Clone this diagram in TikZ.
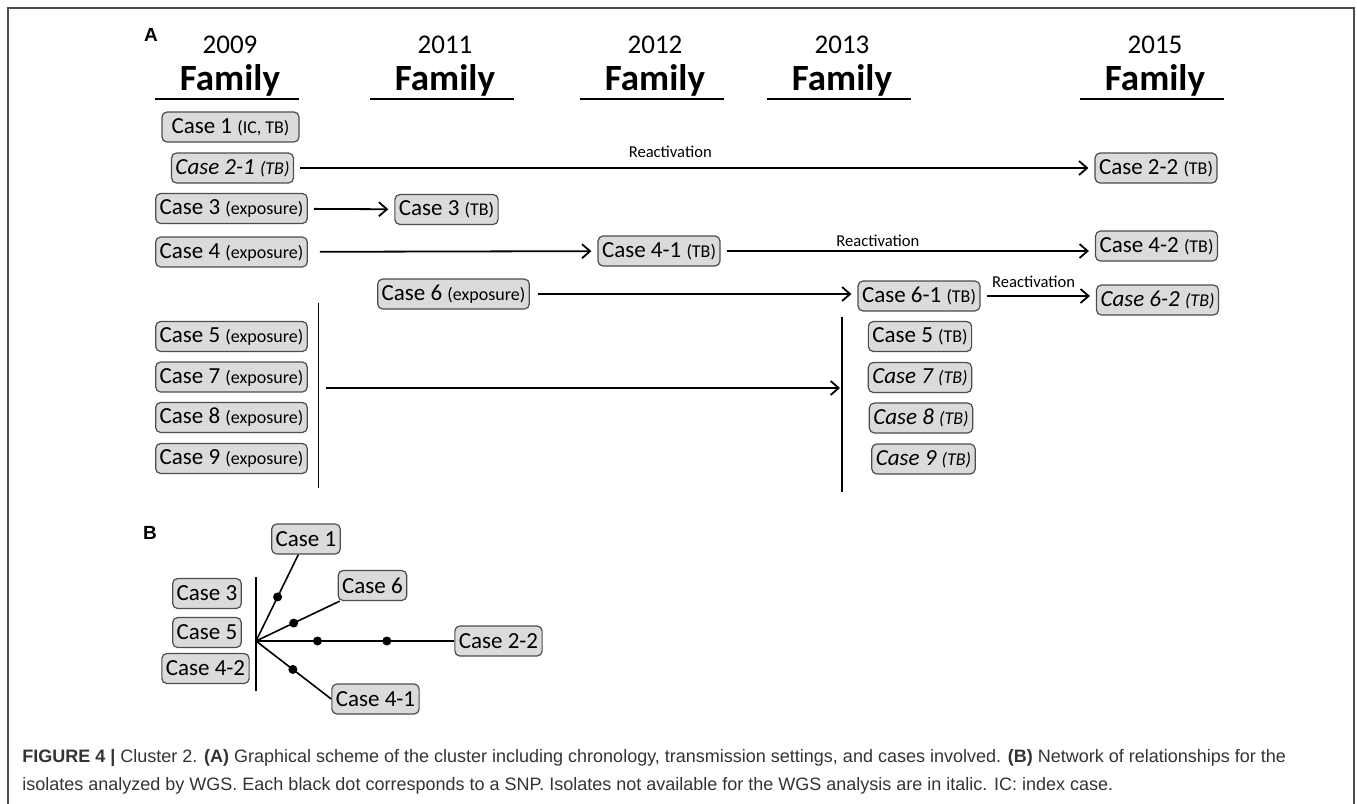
\documentclass[tikz,border=0pt]{standalone}
\usepackage{fontspec}
\setmainfont{Carlito}
\newfontfamily\capfont{Liberation Sans}
\usetikzlibrary{arrows.meta}
\newcommand{\cstag}[1]{{\fontsize{9}{10}\selectfont(#1)}}

\begin{document}
\begin{tikzpicture}[
  x=0.5pt, y=-0.5pt,
  box/.style={draw=black!70, fill=black!14, rounded corners=2.5pt, line width=0.6pt,
  inner xsep=2pt, inner ysep=0pt, minimum height=15pt, font=\fontsize{11.5}{13}\selectfont},
  nowgs/.style={box, font=\itshape\fontsize{11.5}{13}\selectfont},
  year/.style={font=\fontsize{13.5}{16}\selectfont},
  fam/.style={font=\bfseries\fontsize{18.5}{22}\selectfont},
  uline/.style={line width=1.4pt},
  arrow/.style={-{Straight Barb[length=4pt, width=7pt]}, line width=0.9pt,
  shorten <=3pt, shorten >=3pt},
  react/.style={font=\fontsize{8.3}{9}\selectfont, above, inner sep=1.5pt},
  bar/.style={line width=0.7pt},
  link/.style={line width=0.8pt},
  snp/.style={circle, fill=black, inner sep=0pt, minimum size=4.5pt},
  panel/.style={font=\capfont\bfseries\fontsize{9.5}{11}\selectfont}
]
  \useasboundingbox (0,0) rectangle (1357,804);
  \draw[black!70, line width=0.8pt] (8,830) -- (8,8) -- (1354,8) -- (1354,830);

  \node[panel] (pa) at (151,35) {A};
  \foreach \x/\yr in {230/2009, 445/2011, 655/2012, 842/2013, 1155/2015} {
    \node[year] (y\yr) at (\x,45) {\yr};
    \node[fam] (f\yr) at (\x,80) {Family};
    \draw[uline] (\x-75,99) -- (\x+69,99);
  }

  \node[box, minimum width=68.5pt] (c1) at (230.5,127) {Case 1 \cstag{IC, TB}};
  \node[nowgs] (c21) at (232.5,168) {Case 2-1 \cstag{TB}};
  \node[box] (c22) at (1156,168) {Case 2-2 \cstag{TB}};
  \node[box] (c3e) at (231.5,208.5) {Case 3 \cstag{exposure}};
  \node[box] (c3t) at (446.5,209.5) {Case 3 \cstag{TB}};
  \node[box] (c4e) at (231.5,252) {Case 4 \cstag{exposure}};
  \node[box] (c41) at (659,251) {Case 4-1 \cstag{TB}};
  \node[box] (c42) at (1156.5,246) {Case 4-2 \cstag{TB}};
  \node[box] (c6e) at (453.5,294) {Case 6 \cstag{exposure}};
  \node[box] (c61) at (919,296) {Case 6-1 \cstag{TB}};
  \node[nowgs] (c62) at (1157.5,300) {Case 6-2 \cstag{TB}};
  \node[box] (c5e) at (231.5,336.5) {Case 5 \cstag{exposure}};
  \node[box] (c7e) at (231.5,377) {Case 7 \cstag{exposure}};
  \node[box] (c8e) at (231.5,417.5) {Case 8 \cstag{exposure}};
  \node[box] (c9e) at (231.5,458.5) {Case 9 \cstag{exposure}};
  \node[box] (c5t) at (920,336.5) {Case 5 \cstag{TB}};
  \node[nowgs] (c7t) at (920,377.5) {Case 7 \cstag{TB}};
  \node[nowgs] (c8t) at (921,418) {Case 8 \cstag{TB}};
  \node[nowgs] (c9t) at (923.5,459) {Case 9 \cstag{TB}};

  \draw[bar] (318.5,303) -- (318.5,488);
  \draw[bar] (842,317) -- (842,492);
  \coordinate (lb) at (320,388);
  \coordinate (rb) at (846,388);

  \draw[arrow] (c21) -- (c22) node[react, pos=0.47, yshift=3pt] {Reactivation};
  \draw[arrow] (c3e) -- (c3t);
  \draw[arrow, shorten <=6pt] (c4e) -- (c41);
  \draw[arrow] (c41.east) -- (c41.east -| c42.west) node[react, pos=0.42] {Reactivation};
  \draw[arrow, shorten <=4pt] (c6e) -- (c6e -| c61.west);
  \draw[arrow] (c61.east) -- (c61.east -| c62.west) node[react, pos=0.46, yshift=2pt] {Reactivation};
  \draw[arrow] (lb) -- (rb);

  \node[panel] (pb) at (150,533) {B};
  \node[box] (b1) at (306,539) {Case 1};
  \node[box] (b6) at (372.5,585.5) {Case 6};
  \node[box] (b3) at (207,593.5) {Case 3};
  \node[box] (b5) at (207,632.5) {Case 5};
  \node[box] (b42) at (205.5,668.5) {Case 4-2};
  \node[box] (b22) at (498.5,641) {Case 2-2};
  \node[box] (b41) at (375.5,699) {Case 4-1};
  \coordinate (hub) at (256,641);
  \draw[bar] (256,577) -- (256,691);
  \draw[link] (hub) -- (b1) node[snp, pos=0.51] {};
  \draw[link] (hub) -- (b6) node[snp, pos=0.45] {};
  \draw[link] (hub) -- (b22) node[snp, pos=0.31] {} node[snp, pos=0.66] {};
  \draw[link] (hub) -- (b41.west) node[snp, pos=0.49] {};

  \node[anchor=base west, align=left, text=black!80, inner sep=0pt,
  font=\capfont\fontsize{9}{14}\selectfont] (cap) at (22,790)
  {\textbf{FIGURE 4 |} Cluster 2. \textbf{(A)} Graphical scheme of the cluster including chronology, transmission settings, and cases involved. \textbf{(B)} Network of relationships for the\\
  isolates analyzed by WGS. Each black dot corresponds to a SNP. Isolates not available for the WGS analysis are in italic. IC: index case.};
\end{tikzpicture}
\end{document}
